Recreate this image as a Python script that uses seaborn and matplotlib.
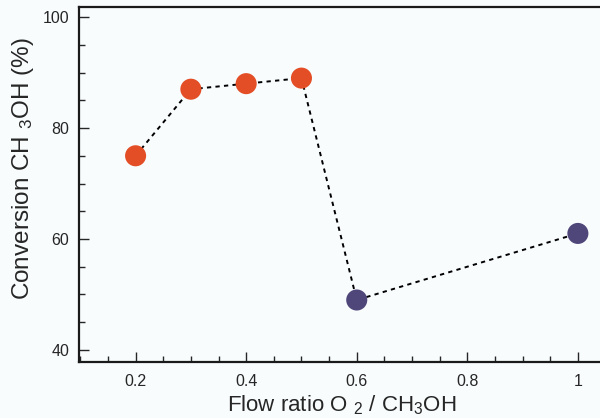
import pandas as pd
import seaborn as sns
import matplotlib.pyplot as plt
from matplotlib.ticker import MultipleLocator, FormatStrFormatter

# Values
flow_ratio = [0.2, 0.3, 0.4, 0.5, 0.6, 1.0]
conversion = [75, 87, 88, 89, 49, 61]
group = ['low', 'low', 'low', 'low', 'high', 'high']

df = pd.DataFrame({'ratio': flow_ratio, 'conv': conversion, 'group': group})

sns.set_style('ticks')
plt.rcParams['font.family'] = ['Liberation Sans', 'DejaVu Sans']
plt.rcParams['mathtext.default'] = 'regular'

bg = '#F8FCFD'
fig = plt.figure(figsize=(6, 4.18), dpi=100, facecolor=bg)
ax = fig.add_axes([0.132, 0.135, 0.875, 0.848])
ax.set_facecolor(bg)

# dotted connecting line
sns.lineplot(data=df, x='ratio', y='conv', color='black', linewidth=1.4,
             dashes=False, sort=False, ax=ax, zorder=2)
ax.lines[0].set_linestyle((0, (2.2, 2.2)))

sns.scatterplot(data=df, x='ratio', y='conv', hue='group',
                palette={'low': '#E34E26', 'high': '#4F4679'},
                s=230, edgecolor='none', legend=False, ax=ax, zorder=3)

ax.set_xlim(0.098, 1.0476)
ax.set_ylim(37.9, 101.8)
ax.xaxis.set_major_locator(MultipleLocator(0.2))
ax.xaxis.set_minor_locator(MultipleLocator(0.05))
ax.yaxis.set_major_locator(MultipleLocator(20))
ax.yaxis.set_minor_locator(MultipleLocator(5))
ax.xaxis.set_major_formatter(FormatStrFormatter('%g'))

ax.tick_params(which='major', direction='in', length=7, width=1, labelsize=11.5,
               top=False, right=False)
ax.tick_params(which='minor', direction='in', length=4, width=1,
               top=False, right=False)
ax.tick_params(axis='x', which='major', pad=9)
ax.tick_params(axis='y', which='major', pad=7)

for side in ['left', 'bottom', 'top']:
    ax.spines[side].set_linewidth(1.6)
    ax.spines[side].set_color('#1a1a1a')
ax.spines['right'].set_visible(False)

ax.set_xlabel('Flow ratio O $_2$ / CH$_3$OH', fontsize=16, labelpad=3)
ax.set_ylabel('Conversion CH $_3$OH (%)', fontsize=17.5)
ax.yaxis.set_label_coords(-0.082, 0.545)

plt.savefig('out.png', dpi=100, facecolor=bg)
